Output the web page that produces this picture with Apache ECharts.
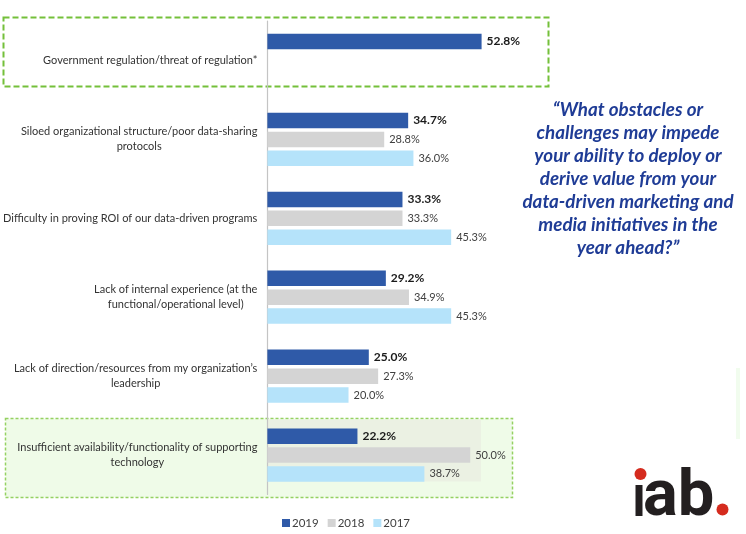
<!DOCTYPE html>
<html>
<head>
<meta charset="utf-8">
<script src="https://cdn.jsdelivr.net/npm/echarts@6/dist/echarts.min.js"></script>
<style>html,body{margin:0;padding:0;background:#fff}#c{width:746px;height:534px}</style>
</head>
<body>
<div id="c"></div>
<script>
const categories = [
  'Government regulation/threat of regulation*',
  'Siloed organizational structure/poor data-sharing\nprotocols',
  'Difficulty in proving ROI of our data-driven programs',
  'Lack of internal experience (at the\nfunctional/operational level)',
  'Lack of direction/resources from my organization\u2019s\nleadership',
  'Insufficient availability/functionality of supporting\ntechnology'
];
const seriesNames = ['2019', '2018', '2017'];
const values2019 = [52.8, 34.7, 33.3, 29.2, 25.0, 22.2];
const values2018 = [null, 28.8, 33.3, 34.9, 27.3, 50.0];
const values2017 = [null, 36.0, 45.3, 45.3, 20.0, 38.7];
const quoteLines = [
  '\u201CWhat obstacles or',
  'challenges may impede',
  'your ability to deploy or',
  'derive value from your',
  'data-driven marketing and',
  'media initiatives in the',
  'year ahead?\u201D'
];

const FONT = 'Lato, "Open Sans", sans-serif';
const chart = echarts.init(document.getElementById('c'), null, {renderer: 'canvas'});

function barSeries(name, data, color, bold) {
  return {
    name: name,
    type: 'bar',
    data: data,
    barWidth: 15.5,
    barGap: '22%',
    itemStyle: {color: color},
    label: {
      show: true,
      position: 'right',
      distance: 5,
      fontFamily: FONT,
      fontSize: bold ? 12 : 11,
      fontWeight: bold ? 'bold' : 'normal',
      color: bold ? '#1a1a1a' : '#404040',
      formatter: p => (p.value == null ? '' : p.value.toFixed(1) + '%')
    }
  };
}

chart.setOption({
  animation: false,
  backgroundColor: '#ffffff',
  grid: {left: 266, top: 21, width: 244.8, height: 473.5},
  xAxis: {type: 'value', min: 0, max: 60, show: false},
  yAxis: {
    type: 'category',
    inverse: true,
    data: categories,
    axisTick: {show: false},
    axisLine: {lineStyle: {color: '#c4c4c4', width: 1.2}},
    axisLabel: {
      margin: 10,
      formatter: v => '{c|' + v + '}',
      rich: {
        c: {align: 'center', fontFamily: FONT, fontSize: 11, color: '#333333', lineHeight: 15}
      }
    }
  },
  legend: {
    data: seriesNames,
    left: 277,
    top: 512,
    icon: 'rect',
    itemWidth: 8,
    itemHeight: 8,
    itemGap: 9,
    textStyle: {fontFamily: FONT, fontSize: 11.5, color: '#404040', padding: [0, 0, 0, -3]}
  },
  graphic: [
    {type: 'rect', z: -10, shape: {x: 3.5, y: 17.5, width: 545, height: 69},
      style: {fill: 'none', stroke: '#74c03a', lineWidth: 2, lineDash: [6, 3]}},
    {type: 'rect', z: -10, shape: {x: 5.5, y: 418.5, width: 507, height: 79},
      style: {fill: '#effbe8', stroke: '#95d162', lineWidth: 1.5, lineDash: [3, 2]}},
    {type: 'rect', z: -9, shape: {x: 267, y: 419.5, width: 214, height: 62},
      style: {fill: '#ebf1e3'}},
    {type: 'rect', z: -10, shape: {x: 736, y: 368, width: 4, height: 71},
      style: {fill: '#f1fcee'}},
    {type: 'text', z: 5, x: 628, y: 98,
      style: {text: quoteLines.join('\n'), textAlign: 'center',
        font: 'italic bold 18.8px ' + FONT, lineHeight: 23, fill: '#1f3c96'}},
    {type: 'rect', shape: {x: 635.5, y: 485, width: 7, height: 31}, style: {fill: '#231f20'}},
    {type: 'circle', shape: {cx: 640.5, cy: 474, r: 6}, style: {fill: '#d52b1e'}},
    {type: 'text', x: 643, y: 531, style: {text: 'ab', textAlign: 'left', textVerticalAlign: 'bottom',
      font: 'bold 65px Roboto, sans-serif', fill: '#231f20'}},
    {type: 'circle', shape: {cx: 722.5, cy: 509.5, r: 6}, style: {fill: '#d52b1e'}}
  ],
  series: [
    barSeries('2019', values2019, '#2f5aa8', true),
    barSeries('2018', values2018, '#d4d4d4', false),
    barSeries('2017', values2017, '#b5e3fa', false)
  ]
});
</script>
</body>
</html>
